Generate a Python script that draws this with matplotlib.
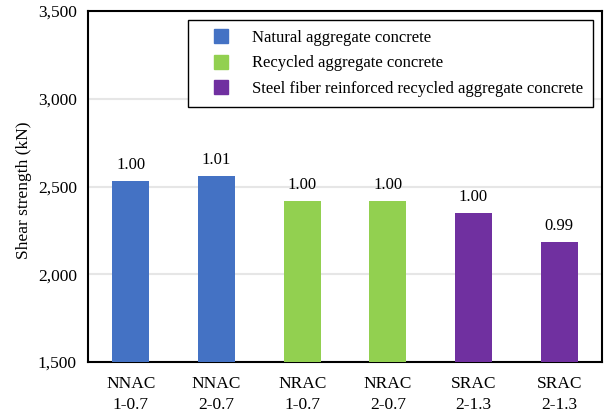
import numpy as np
from matplotlib import pyplot as plt
from matplotlib.lines import Line2D

plt.rcParams['font.family'] = ['Liberation Serif', 'DejaVu Serif']

# =============================================================================
# Data
# =============================================================================
labels = ['NNAC\n1-0.7', 'NNAC\n2-0.7', 'NRAC\n1-0.7', 'NRAC\n2-0.7',
          'SRAC\n2-1.3', 'SRAC\n2-1.3']
strength = [2531, 2560, 2417, 2417, 2349, 2184]
ratios = ['1.00', '1.01', '1.00', '1.00', '1.00', '0.99']
groups = ['Natural aggregate concrete', 'Recycled aggregate concrete',
          'Steel fiber reinforced recycled aggregate concrete']
group_of_bar = [0, 0, 1, 1, 2, 2]
colors = ['#4472C4', '#92D050', '#7030A0']

fig = plt.figure(figsize=(6.04, 4.12), dpi=100)
ax = fig.add_axes([88 / 604, 50 / 412, 514 / 604, 351 / 412])

x = np.arange(len(labels))
bar_colors = [colors[g] for g in group_of_bar]
bars = ax.bar(x, strength, width=0.43, color=bar_colors, zorder=3)
for b, r in zip(bars, ratios):
    ax.text(b.get_x() + b.get_width() / 2, b.get_height() + 45, r,
            ha='center', va='bottom', fontsize=12)

ax.set_ylim(1500, 3500)
ax.set_xlim(-0.5, len(labels) - 0.5)
yt = [1500, 2000, 2500, 3000, 3500]
ax.set_yticks(yt)
ax.set_yticklabels(['{:,}'.format(v) for v in yt])
ax.set_xticks(x)
ax.set_xticklabels(labels, linespacing=1.45)
ax.tick_params(length=0, labelsize=12.5, pad=8)
ax.tick_params(axis='x', pad=10)
ax.yaxis.grid(True, color='#e6e6e6', lw=1.5, zorder=0)
ax.set_ylabel('Shear strength (kN)', fontsize=12.5)
ax.yaxis.set_label_coords(-0.108, 0.49)
for s in ax.spines.values():
    s.set_linewidth(1.5)
    s.set_color('black')

handles = [Line2D([], [], ls='none', marker='s', markersize=9.5,
                  markerfacecolor=c, markeredgecolor=c, label=g)
           for c, g in zip(colors, groups)]
leg = ax.legend(handles=handles, loc='upper right',
                bbox_to_anchor=(0.982, 0.974), fontsize=12, frameon=True,
                fancybox=False, edgecolor='black', framealpha=1,
                handlelength=2.7, handletextpad=0.5,
                borderpad=0.6, labelspacing=0.56, borderaxespad=0)
leg.get_frame().set_linewidth(1.0)

fig.savefig('out.png', dpi=100)
